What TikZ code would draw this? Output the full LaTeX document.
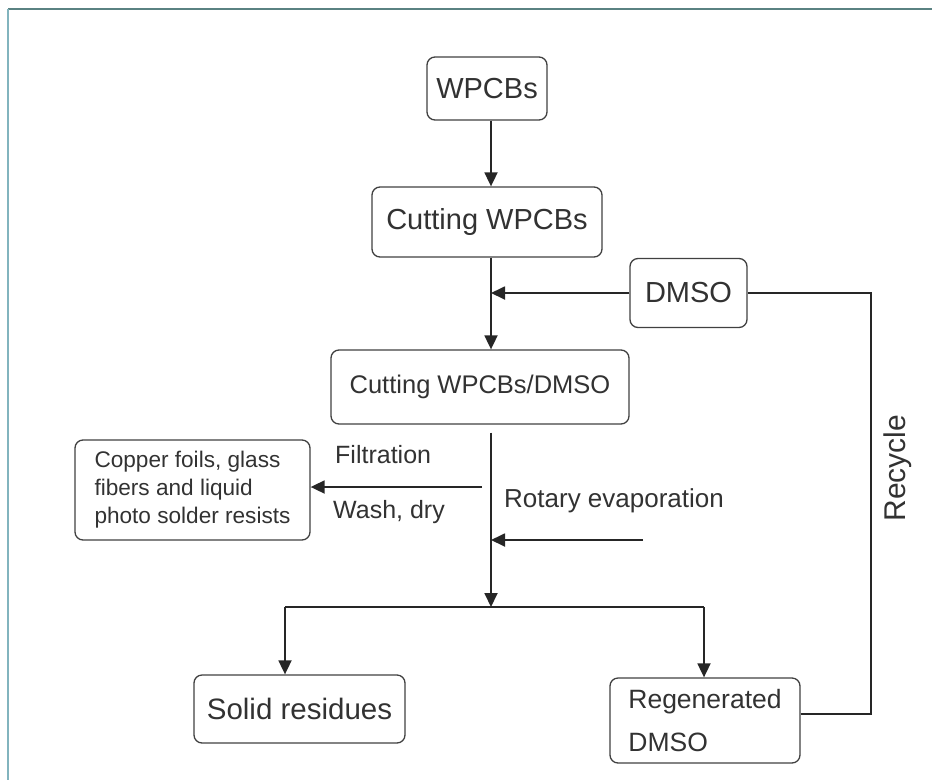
\documentclass[tikz,border=0pt]{standalone}
\usepackage{fontspec}
\setmainfont{Liberation Sans}
\usepackage{xcolor}
\usepackage{tikz}
\usetikzlibrary{positioning,calc}
\usetikzlibrary{arrows.meta}
\definecolor{txtgray}{RGB}{50,50,50}
\definecolor{framedark}{RGB}{90,130,130}
\definecolor{framelight}{RGB}{130,180,190}
\tikzset{
    box/.style={draw=black!75, line width=1.3pt, rounded corners=8pt, text=txtgray, inner sep=0pt},
    flow/.style={line width=1.8pt, black!85, -{Triangle[length=14pt,width=13pt]}},
    plain/.style={line width=1.8pt, black!85},
    lbl/.style={text=txtgray, inner sep=0pt}
}
\begin{document}
\begin{tikzpicture}[x=1pt,y=-1pt]
    \useasboundingbox (0,0) rectangle (932,780);
    % frame of the page
    \draw[framedark, line width=2pt] (8,9)--(932,9);
    \draw[framelight, line width=2pt] (8,9)--(8,780);
    % boxes
    \node[box, minimum width=120pt, minimum height=63pt, font=\fontsize{29}{34}\selectfont] (wpcbs) at (487,88.5) {WPCBs};
    \node[box, minimum width=230pt, minimum height=70pt, font=\fontsize{29}{34}\selectfont] (cut) at (487,222) {Cutting WPCBs};
    \node[box, minimum width=117pt, minimum height=69pt, font=\fontsize{29}{34}\selectfont] (dmso) at (688.5,293) {DMSO};
    \node[box, minimum width=298pt, minimum height=74pt, font=\fontsize{25.5}{30}\selectfont] (mix) at (480,387) {Cutting WPCBs/DMSO};
    \node[box, minimum width=235pt, minimum height=100pt, align=left, font=\fontsize{22.6}{28}\selectfont] (foils) at (192.5,490) {Copper foils, glass\\fibers and liquid\\photo solder resists};
    \node[box, minimum width=211pt, minimum height=68pt, font=\fontsize{29.5}{34}\selectfont] (solid) at (299.5,709) {Solid residues};
    \node[box, minimum width=190pt, minimum height=85pt, align=left, font=\fontsize{26.5}{43}\selectfont] (regen) at (705,720.5) {Regenerated\\DMSO};
    % junction points on the main line
    \coordinate (j1) at (491,293);
    \coordinate (filt) at (482,487);
    \coordinate (rot) at (643,540);
    \coordinate (split) at (491,607);
    \coordinate (sl) at (285,607);
    \coordinate (sr) at (704,607);
    \coordinate (rc) at (871,714);
    % main line
    \draw[flow] (wpcbs.south -| j1) -- (cut.north -| j1);
    \draw[flow] (cut.south -| j1) -- (mix.north -| j1);
    \draw[flow] (dmso.west) -- (j1);
    \draw[flow, shorten <=8pt] (mix.south -| j1) -- (split);
    \draw[flow] (filt) -- (foils.east |- filt);
    \draw[flow] (rot) -- (rot -| j1);
    % split to the products
    \draw[plain] (sl) -- (sr);
    \draw[flow] (sl) -- (sl |- solid.north);
    \draw[flow] (sr) -- (sr |- regen.north);
    % recycle loop
    \draw[plain] (regen.east |- rc) -- (rc) |- (dmso.east);
    % labels
    \node[lbl, anchor=base west, font=\fontsize{25}{30}\selectfont] (filtlbl) at (335,463) {Filtration};
    \node[lbl, anchor=base west, font=\fontsize{25}{30}\selectfont] (washlbl) at (333,518) {Wash, dry};
    \node[lbl, anchor=base west, font=\fontsize{26}{30}\selectfont] (rotlbl) at (504,507) {Rotary evaporation};
    \node[lbl, rotate=90, font=\fontsize{30}{34}\selectfont] (reclbl) at (898,468) {Recycle};
\end{tikzpicture}
\end{document}
